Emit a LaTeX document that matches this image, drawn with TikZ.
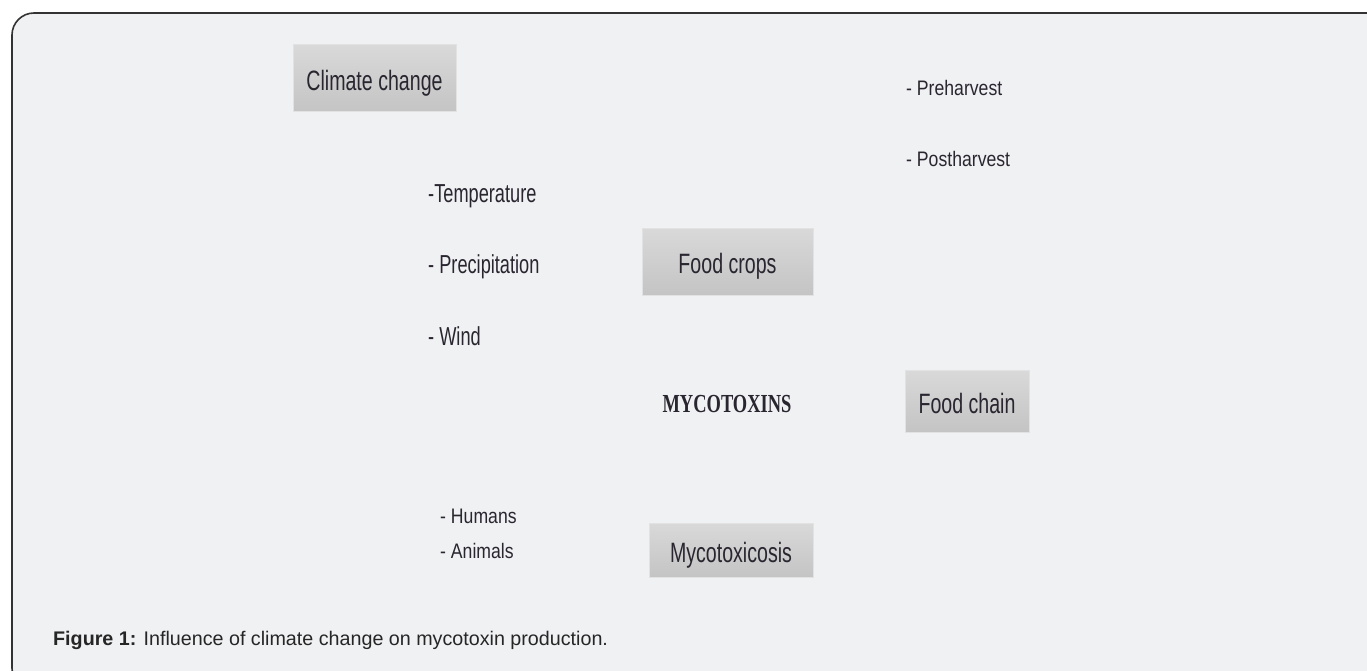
\documentclass[tikz,border=0pt]{standalone}
\usepackage{fontspec}
\setmainfont{Liberation Sans}
\newfontfamily\narrowfont[FakeStretch=0.70]{Liberation Sans}
\newfontfamily\smallnarrow[FakeStretch=0.84]{Liberation Sans}
\newfontfamily\serifface[FakeStretch=0.71]{Liberation Serif}
\definecolor{panelbg}{HTML}{F0F1F3}
\definecolor{frameline}{HTML}{333333}
\definecolor{boxtop}{HTML}{D9D9D9}
\definecolor{boxbot}{HTML}{C4C4C4}
\definecolor{boxedge}{HTML}{E2E2E2}
\definecolor{labeltext}{HTML}{2A2630}
\newcommand{\boxlabel}[1]{\raisebox{-12pt}[0pt][0pt]{#1}}
\tikzset{
  cbox/.style={rectangle, top color=boxtop, bottom color=boxbot, draw=boxedge, line width=1pt,
    inner sep=0pt, text=labeltext, font=\narrowfont\fontsize{28}{30}\selectfont},
  sidelabel/.style={anchor=base west, inner sep=0pt, text=labeltext, font=\narrowfont\fontsize{26}{30}\selectfont},
  minorlabel/.style={anchor=base west, inner sep=0pt, text=labeltext, font=\smallnarrow\fontsize{21}{24}\selectfont},
}
\begin{document}
\begin{tikzpicture}[x=1pt,y=-1pt]
\useasboundingbox (0,0) rectangle (1367,671);
\begin{scope}
\clip (0,0) rectangle (1367,671);
\fill[white] (0,0) rectangle (1367,671);
\draw[frameline, line width=1.6pt, fill=panelbg, rounded corners=22pt] (12,13) rectangle (1390,690);
\end{scope}
% boxes
\node[cbox, minimum width=163pt, minimum height=67pt] (cc) at (374.5,78.5) {\boxlabel{Climate change}};
\node[cbox, minimum width=171pt, minimum height=67pt] (fc) at (727.5,261.5) {\boxlabel{Food crops}};
\node[cbox, minimum width=124pt, minimum height=62pt] (fch) at (967,401) {\boxlabel{Food chain}};
\node[cbox, minimum width=164pt, minimum height=54pt] (mc) at (731,550) {\boxlabel{Mycotoxicosis}};
% labels
\node[sidelabel] (temp) at (428,202) {-Temperature};
\node[sidelabel] (prec) at (428,273) {- Precipitation};
\node[sidelabel] (wind) at (428,345) {- Wind};
\node[minorlabel] (preh) at (906,96) {- Preharvest};
\node[minorlabel] (posth) at (906,167) {- Postharvest};
\node[minorlabel] (hum) at (440,523) {- Humans};
\node[minorlabel] (ani) at (440,558) {- Animals};
\node[anchor=base, inner sep=0pt, text=labeltext, font=\serifface\bfseries\fontsize{26}{28}\selectfont] (myco) at (727,412) {MYCOTOXINS};
% caption
\node[anchor=base west, inner sep=0pt, text=black!85, font=\fontsize{19.7}{22}\selectfont] (cap) at (53,645)
  {\textbf{Figure 1:} Influence of climate change on mycotoxin production.};
\end{tikzpicture}
\end{document}
